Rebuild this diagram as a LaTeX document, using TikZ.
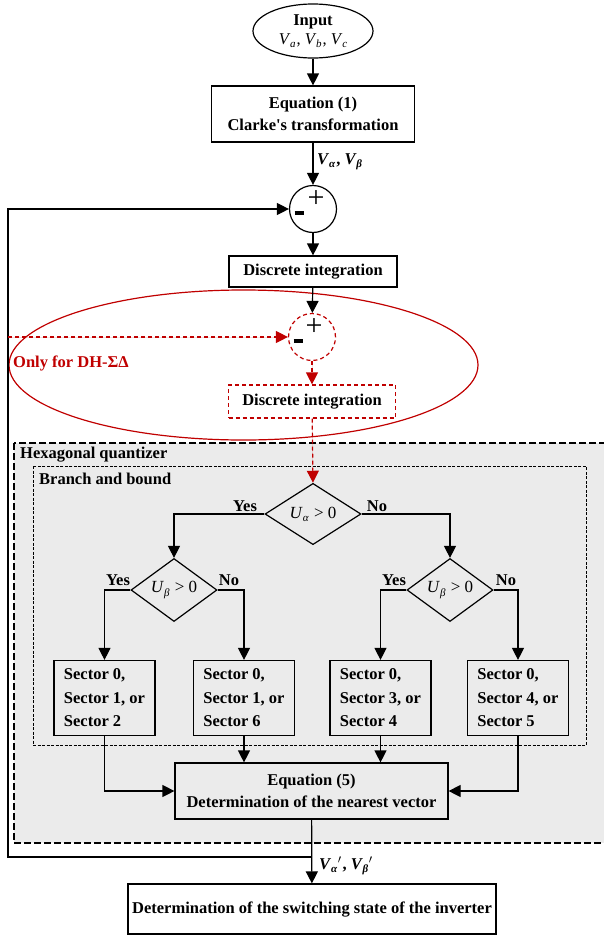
\documentclass[tikz,border=0pt]{standalone}
\usepackage{fontspec}
\setmainfont{Liberation Serif}
\usetikzlibrary{shapes.geometric,arrows.meta}
\definecolor{dred}{HTML}{C00000}
\definecolor{qgray}{HTML}{EBEBEB}
\newcommand{\Vsub}[2]{\textit{#1}\kern-0.3pt\raisebox{-0.35ex}{\fontsize{11}{11}\selectfont\textit{#2}}}
\begin{document}
\begin{tikzpicture}[x=1pt,y=-1pt,
  every node/.style={font=\fontsize{16.5}{22}\selectfont\bfseries},
  arr/.style={-{Triangle[length=12pt,width=12pt]}},
  ln/.style={line width=1.2pt},
  box/.style={draw,ln,fill=white,align=center,inner sep=2pt},
  qbox/.style={draw,ln,align=center,inner sep=2pt},
  sbox/.style={draw,ln,align=left,minimum width=101pt,minimum height=75pt,inner sep=2pt,font=\fontsize{16.5}{23.5}\selectfont\bfseries},
  dia/.style={draw,ln,diamond,inner sep=0pt,font=\fontsize{17}{20}\selectfont\mdseries},
  red dash/.style={draw=dred,line width=1.2pt,dash pattern=on 4pt off 3pt},
  lab/.style={inner sep=1pt},
  plus/.style={inner sep=0pt,font=\fontsize{30}{30}\selectfont\mdseries},
  minus/.style={inner sep=0pt}
]
\useasboundingbox (0,0) rectangle (604,937);
% Hexagonal quantizer region
\begin{scope}
\clip (0,0) rectangle (604,937);
\draw[fill=qgray,line width=1.2pt,dash pattern=on 7pt off 3pt] (14,443) rectangle (620,843);
\end{scope}
\node[lab,anchor=west] (hq) at (19,455) {Hexagonal quantizer};
\draw[line width=1pt,dash pattern=on 3pt off 1.5pt] (33,466) rectangle (586,745);
\node[lab,anchor=west] (bb) at (38,479) {Branch and bound};
% red ellipse
\draw[dred,line width=1.2pt] (243.5,365) ellipse [x radius=234.5pt,y radius=75pt];
\node[lab,anchor=west,text=dred] (only) at (12,363) {Only for DH-ΣΔ};
% nodes
\node[draw,ln,ellipse,minimum width=120pt,minimum height=54pt,inner sep=0pt,align=center] (in) at (313,31)
  {Input\\[-3pt]{\mdseries\Vsub{V}{a}\kern1pt, \Vsub{V}{b}\kern1pt, \Vsub{V}{c}}};
\node[box,minimum width=203pt,minimum height=56pt] (eq1) at (313,114) {Equation (1)\\Clarke\textquotesingle s transformation};
\node[draw,ln,circle,fill=white,minimum size=47pt,inner sep=0pt] (sum1) at (313,209) {};
\node[plus] (p1) at (316,199) {+};
\node[minus] (m1) at (299,213) {\rule{9pt}{3.2pt}};
\node[box,minimum width=168pt,minimum height=31pt] (di1) at (313,271.5) {Discrete integration};
\node[circle,red dash,fill=white,minimum size=47pt,inner sep=0pt] (sum2) at (312,337) {};
\node[plus] (p2) at (314,327) {+};
\node[minus] (m2) at (298,341) {\rule{9pt}{3.2pt}};
\node[red dash,fill=white,minimum width=167pt,minimum height=33pt,inner sep=2pt] (di2) at (312,401.5) {Discrete integration};
% quantizer
\node[dia,minimum width=96pt,minimum height=56pt] (d1) at (313,514) {\textit{U}\raisebox{-0.4ex}{\fontsize{11}{11}\selectfont\textit{α}} \kern1pt> 0};
\node[dia,minimum width=86pt,minimum height=54pt] (d2) at (174,590) {\textit{U}\raisebox{-0.4ex}{\fontsize{11}{11}\selectfont\textit{β}} \kern1pt> 0};
\node[dia,minimum width=86pt,minimum height=54pt] (d3) at (450,590) {\textit{U}\raisebox{-0.4ex}{\fontsize{11}{11}\selectfont\textit{β}} \kern1pt> 0};
\node[sbox] (s1) at (104.5,698) {Sector 0,\\Sector 1, or\\Sector 2};
\node[sbox] (s2) at (244,698) {Sector 0,\\Sector 1, or\\Sector 6};
\node[sbox] (s3) at (380.5,698) {Sector 0,\\Sector 3, or\\Sector 4};
\node[sbox] (s4) at (518,698) {Sector 0,\\Sector 4, or\\Sector 5};
\node[qbox,minimum width=273pt,minimum height=56pt] (eq5) at (311.5,791) {Equation (5)\\Determination of the nearest vector};
\node[box,minimum width=368pt,minimum height=50pt] (fin) at (312,909) {Determination of the switching state of the inverter};
% connectors
\draw[ln,arr] (in) -- (eq1);
\draw[ln,arr] (eq1) -- (sum1);
\node[lab,anchor=west] (vab) at (316,162) {\Vsub{V}{α}\kern1pt, \Vsub{V}{β}};
\draw[ln,arr] (sum1) -- (di1);
\draw[ln,arr] (di1) -- (sum2);
\coordinate (fb) at (eq5.south |- 0,857);
\coordinate (fbl) at (8,857);
\coordinate (rs) at (8,337);
\draw[ln,arr] (eq5) -- (fin);
\draw[ln,arr] (fb) -- (fbl) |- (sum1.west);
\draw[red dash,-{Triangle[length=12pt,width=12pt]},fill=dred] (rs) -- (sum2.west);
\draw[red dash,-{Triangle[length=12pt,width=12pt]},fill=dred] (sum2) -- (di2);
\draw[red dash,-{Triangle[length=12pt,width=12pt]},fill=dred] (di2) -- (d1.north);
\node[lab,anchor=west] (vab2) at (318,866) {\Vsub{V}{α}\kern0.5pt$'$\kern1pt, \Vsub{V}{β}\kern0.5pt$'$};
\draw[ln,arr] (d1.west) -| (d2.north);
\draw[ln,arr] (d1.east) -| (d3.north);
\node[lab] (y1) at (245,506) {Yes};
\node[lab] (n1) at (377,506) {No};
\draw[ln,arr] (d2.west) -| (s1.north);
\draw[ln,arr] (d2.east) -| (s2.north);
\node[lab] (y2) at (118,580) {Yes};
\node[lab] (n2) at (229,580) {No};
\draw[ln,arr] (d3.west) -| (s3.north);
\draw[ln,arr] (d3.east) -| (s4.north);
\node[lab] (y3) at (394,580) {Yes};
\node[lab] (n3) at (506,580) {No};
\draw[ln,arr] (s1.south) |- (eq5.west);
\draw[ln,arr] (s2.south) -- (s2.south |- eq5.north);
\draw[ln,arr] (s3.south) -- (s3.south |- eq5.north);
\draw[ln,arr] (s4.south) |- (eq5.east);
\end{tikzpicture}
\end{document}
